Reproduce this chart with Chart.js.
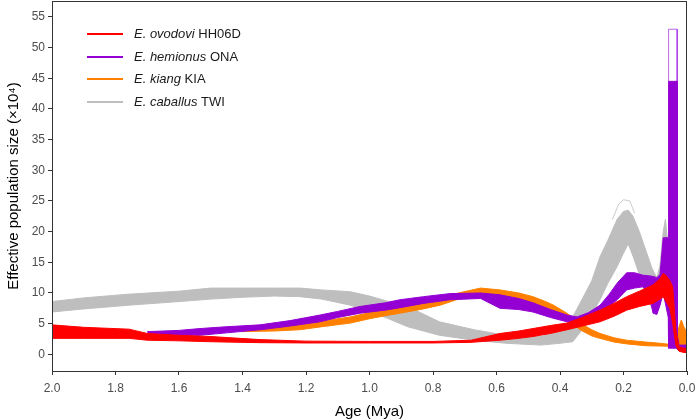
<!DOCTYPE html>
<html>
<head>
<meta charset="utf-8">
<script src="https://cdn.jsdelivr.net/npm/chart.js@4.4.1/dist/chart.umd.min.js"></script>
<style>
  body { margin: 0; background: #fff; }
  #wrap { position: relative; width: 695px; height: 419px; }
  #legend { position: absolute; left: 0; top: 0; font-family: "Liberation Sans", Arial, sans-serif; font-size: 13px; color: #1a1a1a; }
  .row { position: absolute; left: 87px; height: 16px; white-space: nowrap; }
  .row .swatch { position: absolute; left: 0; top: 7px; width: 36px; height: 2px; }
  .row .lbl { position: absolute; left: 47px; top: 0; line-height: 16px; }
</style>
</head>
<body>
<div id="wrap">
  <canvas id="psmc" width="695" height="419"></canvas>
  <div id="legend"></div>
</div>
<script>
// ---------------------- DATA (age in Mya, Ne in 10^4) ------------------------
const xTicks = [2.0, 1.8, 1.6, 1.4, 1.2, 1.0, 0.8, 0.6, 0.4, 0.2, 0.0];
const yTicks = [0, 5, 10, 15, 20, 25, 30, 35, 40, 45, 50, 55];

// E. caballus TWI (grey)
const caballusAge = [2.0, 1.9, 1.76, 1.6, 1.5, 1.4, 1.3, 1.22, 1.15, 1.06, 1.0, 0.94, 0.88, 0.78, 0.67, 0.57, 0.46, 0.40, 0.36, 0.33, 0.30, 0.274, 0.25, 0.22, 0.20, 0.185, 0.17, 0.15, 0.13, 0.11, 0.095, 0.085, 0.075, 0.068, 0.06, 0.05, 0.04, 0.03];
const caballusHi  = [8.6, 9.2, 9.8, 10.3, 10.8, 10.8, 10.8, 10.8, 10.5, 10.2, 9.5, 8.6, 7.8, 5.3, 4.0, 3.1, 2.9, 3.8, 6.1, 9.0, 12.0, 15.9, 18.5, 22.0, 23.3, 23.5, 22.5, 20.0, 17.0, 14.0, 12.5, 14.5, 20.0, 22.0, 18.0, 10.0, 4.0, 2.5];
const caballusLo  = [6.9, 7.4, 8.0, 8.6, 9.0, 9.3, 9.5, 9.4, 9.0, 8.0, 7.0, 5.8, 4.5, 3.1, 2.3, 1.8, 1.5, 1.8, 2.05, 4.0, 6.5, 8.9, 11.5, 14.3, 16.5, 18.0, 16.0, 13.0, 9.5, 7.5, 6.7, 8.0, 11.0, 12.0, 8.0, 4.0, 2.0, 1.2];
// bootstrap outliers above the first grey peak
const caballusBootAge = [0.235, 0.215, 0.20, 0.18, 0.165];
const caballusBootTop = [22.0, 24.5, 25.2, 25.0, 23.0];

// E. kiang KIA (orange)
const kiangAge = [1.40, 1.30, 1.22, 1.15, 1.06, 1.0, 0.95, 0.904, 0.84, 0.778, 0.72, 0.65, 0.589, 0.53, 0.485, 0.45, 0.42, 0.378, 0.337, 0.30, 0.274, 0.23, 0.19, 0.13, 0.085, 0.05, 0.038, 0.025, 0.018, 0.01, 0.0];
const kiangHi  = [4.3, 4.6, 4.9, 5.4, 6.1, 6.8, 7.5, 7.8, 8.5, 9.1, 10.0, 10.8, 10.5, 10.0, 9.4, 8.7, 8.0, 6.7, 5.1, 4.0, 3.4, 2.7, 2.3, 2.0, 1.8, 1.6, 1.5, 4.5, 5.6, 4.5, 3.5];
const kiangLo  = [3.7, 3.8, 4.0, 4.5, 5.1, 5.8, 6.3, 6.7, 7.3, 8.0, 9.0, 9.9, 9.4, 8.7, 8.0, 7.4, 6.9, 5.9, 4.0, 3.0, 2.6, 2.0, 1.7, 1.4, 1.35, 1.3, 1.2, 0.6, 0.8, 1.0, 1.5];

// E. hemionus ONA (purple)
const hemionusAge = [1.70, 1.6, 1.534, 1.45, 1.345, 1.25, 1.156, 1.1, 1.03, 0.95, 0.904, 0.83, 0.746, 0.65, 0.589, 0.53, 0.485, 0.43, 0.378, 0.346, 0.31, 0.274, 0.245, 0.22, 0.19, 0.165, 0.139, 0.12, 0.107, 0.095, 0.085, 0.075, 0.059, 0.058, 0.031, 0.030, 0.025, 0.015, 0.0];
const hemionusHi  = [3.7, 3.9, 4.2, 4.5, 4.8, 5.5, 6.4, 7.0, 7.8, 8.4, 8.9, 9.4, 9.9, 10.0, 9.7, 9.1, 8.4, 7.3, 6.4, 6.1, 6.8, 8.0, 9.8, 11.6, 13.3, 13.3, 12.9, 12.8, 12.7, 12.5, 13.0, 19.0, 19.0, 44.5, 44.5, 3.0, 1.5, 1.5, 1.5];
const hemionusLo  = [3.1, 3.1, 3.1, 3.5, 4.0, 4.6, 5.3, 6.0, 6.7, 7.2, 7.6, 8.3, 8.9, 9.1, 7.5, 7.3, 6.9, 6.0, 5.3, 5.3, 5.8, 6.7, 7.8, 8.9, 10.5, 10.8, 11.0, 10.0, 6.7, 6.5, 8.0, 10.0, 6.0, 1.0, 1.0, 0.8, 0.6, 0.5, 0.5];
// bootstrap outliers of the recent spike
const hemionusSpikeAge = [0.058, 0.058, 0.031, 0.031];
const hemionusSpikeTop = [44.5, 53.0, 53.0, 44.5];

// E. ovodovi HH06D (red)
const ovodoviAge = [2.0, 1.9, 1.757, 1.7, 1.6, 1.5, 1.345, 1.2, 1.0, 0.8, 0.68, 0.589, 0.53, 0.485, 0.43, 0.378, 0.33, 0.274, 0.23, 0.19, 0.15, 0.107, 0.085, 0.075, 0.065, 0.054, 0.045, 0.035, 0.025, 0.01, 0.0];
const ovodoviHi  = [4.8, 4.4, 4.1, 3.4, 3.1, 2.9, 2.4, 2.15, 2.1, 2.1, 2.3, 3.4, 3.8, 4.2, 4.7, 5.1, 6.0, 7.2, 8.3, 9.4, 10.3, 11.3, 12.3, 13.2, 12.8, 12.0, 11.0, 4.0, 1.2, 1.0, 1.0];
const ovodoviLo  = [2.6, 2.6, 2.6, 2.3, 2.2, 2.05, 1.9, 1.85, 1.85, 1.85, 1.95, 2.3, 2.6, 2.9, 3.4, 4.0, 4.6, 5.3, 6.2, 7.2, 7.8, 8.3, 9.0, 9.4, 8.5, 7.5, 5.0, 1.5, 0.5, 0.3, 0.3];

const species = [
  { italic: "E. ovodovi", rest: " HH06D", color: "#ff0000" },
  { italic: "E. hemionus", rest: " ONA", color: "#9400d3" },
  { italic: "E. kiang", rest: " KIA", color: "#ff8000" },
  { italic: "E. caballus", rest: " TWI", color: "#bebebe" },
];

// ---------------------- HELPERS ------------------------
function pts(ages, vals) {
  return ages.map((a, i) => ({ x: a, y: vals[i] }));
}

function band(ages, lo, hi, color, order) {
  return [
    { data: pts(ages, hi), borderColor: color, backgroundColor: color, borderWidth: 1,
      pointRadius: 0, fill: "+1", order: order },
    { data: pts(ages, lo), borderColor: color, backgroundColor: color, borderWidth: 1,
      pointRadius: 0, fill: false, order: order + 0.5 },
  ];
}

function outline(ages, vals, color, order) {
  return { data: pts(ages, vals), borderColor: color, borderWidth: 1, pointRadius: 0,
           fill: false, order: order };
}

const datasets = [
  ...band(ovodoviAge, ovodoviLo, ovodoviHi, "#ff0000", 1),
  ...band(hemionusAge, hemionusLo, hemionusHi, "#9400d3", 2),
  outline(hemionusSpikeAge, hemionusSpikeTop, "rgba(160,40,225,0.7)", 2),
  ...band(kiangAge, kiangLo, kiangHi, "#ff8000", 3),
  ...band(caballusAge, caballusLo, caballusHi, "#bebebe", 4),
  outline(caballusBootAge, caballusBootTop, "rgba(190,190,190,0.8)", 4),
];

// full panel border
const frame = {
  id: "frame",
  afterDatasetsDraw(chart) {
    const { ctx, chartArea: a } = chart;
    ctx.save();
    ctx.strokeStyle = "#333333";
    ctx.lineWidth = 1;
    ctx.strokeRect(a.left + 0.5, a.top + 0.5, a.right - a.left - 1, a.bottom - a.top);
    ctx.restore();
  },
};

const tickFont = { family: "'Liberation Sans', Arial, sans-serif", size: 12 };
const titleFont = { family: "'Liberation Sans', Arial, sans-serif", size: 15 };

new Chart(document.getElementById("psmc"), {
  type: "line",
  data: { datasets: datasets },
  options: {
    responsive: false,
    animation: false,
    devicePixelRatio: 1,
    layout: { padding: { left: 0, right: 8, top: 1, bottom: 0 } },
    plugins: { legend: { display: false }, tooltip: { enabled: false } },
    elements: { line: { tension: 0 } },
    scales: {
      x: {
        type: "linear",
        reverse: true,
        min: 0,
        max: 2,
        afterBuildTicks: (s) => { s.ticks = xTicks.map((v) => ({ value: v })); },
        afterFit: (s) => { s.height = 48; s.paddingLeft = 0; s.paddingRight = 0; },
        ticks: { color: "#4d4d4d", font: tickFont, padding: 6, maxRotation: 0,
                 callback: (v) => Number(v).toFixed(1) },
        grid: { drawOnChartArea: false, tickLength: 4, tickColor: "#333333" },
        border: { display: true, color: "#333333" },
        title: { display: true, text: "Age (Mya)", color: "#000", font: { ...titleFont, lineHeight: 1 },
                 padding: { top: 0, bottom: 0 } },
      },
      y: {
        type: "linear",
        min: -2.72,
        max: 57.6,
        afterBuildTicks: (s) => { s.ticks = yTicks.map((v) => ({ value: v })); },
        afterFit: (s) => { s.width = 52; s.paddingTop = 0; s.paddingBottom = 0; },
        ticks: { color: "#4d4d4d", font: tickFont, padding: 3 },
        grid: { drawOnChartArea: false, tickLength: 4, tickColor: "#333333" },
        border: { display: true, color: "#333333" },
        title: { display: true, text: "Effective population size (\u00d710\u2074)", color: "#000",
                 font: { ...titleFont, lineHeight: 1 }, padding: { top: 6, bottom: 0 } },
      },
    },
  },
  plugins: [frame],
});

// ---------------------- LEGEND ------------------------
const legend = document.getElementById("legend");
species.forEach((sp, i) => {
  const row = document.createElement("div");
  row.className = "row";
  row.style.top = (26 + i * 22.5) + "px";
  row.innerHTML = `<span class="swatch" style="background:${sp.color}"></span>` +
                  `<span class="lbl"><i>${sp.italic}</i>${sp.rest}</span>`;
  legend.appendChild(row);
});
</script>
</body>
</html>
